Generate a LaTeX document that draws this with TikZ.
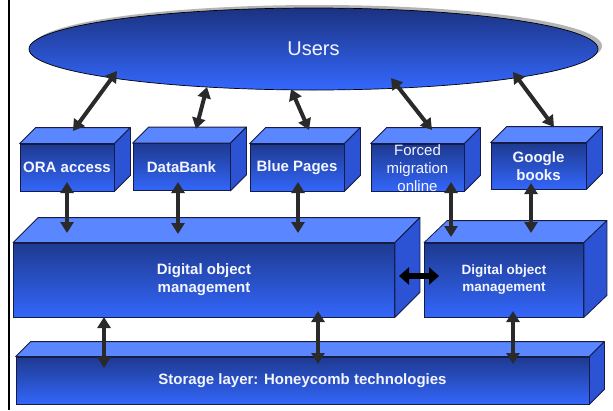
\documentclass[tikz,border=0pt]{standalone}
\usepackage{fontspec}
\setmainfont{Liberation Sans}
\usetikzlibrary{shapes.geometric,arrows.meta}
\definecolor{frontTop}{HTML}{1E3A90}
\definecolor{frontBot}{HTML}{3366FA}
\definecolor{topC}{HTML}{5A86FF}
\definecolor{sideC}{HTML}{2B53D4}
\definecolor{outline}{HTML}{161B45}
\definecolor{arrowC}{HTML}{2A2A2A}
\definecolor{labelC}{HTML}{F4F6FF}
\definecolor{ellTop}{HTML}{1B3280}
\definecolor{ellBot}{HTML}{3468FF}
\definecolor{shadowC}{HTML}{B4B4B4}
\newcommand\extrude[3]{%
  \filldraw[topface] (#1.north west) -- ++(#2,-#3) -- ([shift={(#2,-#3)}]#1.north east) -- (#1.north east) -- cycle;
  \filldraw[sideface] (#1.north east) -- ++(#2,-#3) -- ([shift={(#2,-#3)}]#1.south east) -- (#1.south east) -- cycle;}
\begin{document}
\begin{tikzpicture}[x=1pt,y=-1pt,
  front/.style={draw=outline, line width=0.8pt, top color=frontTop, bottom color=frontBot,
    inner sep=0pt, text=labelC, align=center, font=\fontsize{15}{18}\selectfont\bfseries},
  topface/.style={fill=topC, draw=outline, line width=0.8pt, line join=round},
  sideface/.style={fill=sideC, draw=outline, line width=0.8pt, line join=round},
  link/.style={draw=arrowC, line width=4pt, {Triangle[width=13pt,length=11pt]}-{Triangle[width=13pt,length=11pt]}},
  blink/.style={draw=black, line width=6pt, {Triangle[width=17pt,length=10pt]}-{Triangle[width=17pt,length=10pt]}},
  lbl/.style={text=labelC, align=center, inner sep=0pt}]
\useasboundingbox (0,0) rectangle (613,410);
\fill[white] (0,0) rectangle (613,410);
\draw[line width=2pt] (9,0) -- (9,410);

% Users ellipse
\node[ellipse, fill=shadowC, minimum width=569pt, minimum height=82pt, inner sep=0pt] (usersshadow) at (317.5,46) {};
\node[ellipse, draw=black, line width=0.7pt, top color=ellTop, bottom color=ellBot,
  minimum width=569pt, minimum height=82pt, inner sep=0pt, text=labelC,
  font=\fontsize{20}{24}\selectfont] (users) at (313.5,49) {Users};

% top row
\node[front, minimum width=94pt, minimum height=47pt] (ora) at (67,167.5) {ORA access};
\extrude{ora}{16}{16}
\node[front, minimum width=97pt, minimum height=47pt] (databank) at (181.5,167) {DataBank};
\extrude{databank}{16}{16}
\node[front, minimum width=94pt, minimum height=47pt] (blue) at (297,167.5) {Blue Pages};
\extrude{blue}{16}{16}
\node[front, minimum width=93pt, minimum height=47pt] (forced) at (417.5,167.5) {};
\extrude{forced}{16}{16}
\node[lbl, font=\fontsize{15}{18}\selectfont] (forcedlbl) at (417.5,168) {Forced\\migration\\online};
\node[front, minimum width=95pt, minimum height=46pt] (google) at (538.5,166) {Google\\books};
\extrude{google}{16}{16}

% middle row
\node[front, minimum width=381pt, minimum height=74pt] (dom) at (204,280) {Digital object\\management};
\extrude{dom}{25}{25}
\node[front, minimum width=159pt, minimum height=74pt, font=\fontsize{13.5}{17}\selectfont\bfseries] (domr) at (504,280) {Digital object\\management};
\extrude{domr}{23}{22}

% storage
\node[front, minimum width=573pt, minimum height=47pt] (storage) at (302.5,380.5) {Storage layer: Honeycomb technologies};
\extrude{storage}{15}{15}

% connector end points
\coordinate (u1) at (117,71);   \coordinate (b1) at (73,131);
\coordinate (u2) at (207,87);   \coordinate (b2) at (196,129);
\coordinate (u3) at (291,89);   \coordinate (b3) at (309,130);
\coordinate (u4) at (391,78);   \coordinate (b4) at (432,130);
\coordinate (u5) at (513,72);   \coordinate (b5) at (554,127);

\coordinate (m1t) at (67,182);  \coordinate (m1b) at (67,233);
\coordinate (m2t) at (178,182); \coordinate (m2b) at (178,234);
\coordinate (m3t) at (298,182); \coordinate (m3b) at (298,233);
\coordinate (m4t) at (451,182); \coordinate (m4b) at (451,237);
\coordinate (m5t) at (531,183); \coordinate (m5b) at (531,233);

\coordinate (l1t) at (104,317); \coordinate (l1b) at (104,368);
\coordinate (l2t) at (318,311); \coordinate (l2b) at (318,364);
\coordinate (l3t) at (513,311); \coordinate (l3b) at (513,364);

\coordinate (hl) at (399,276);  \coordinate (hr) at (439,276);

\draw[link] (u1) -- (b1);
\draw[link] (u2) -- (b2);
\draw[link] (u3) -- (b3);
\draw[link] (u4) -- (b4);
\draw[link] (u5) -- (b5);
\draw[link] (m1t) -- (m1b);
\draw[link] (m2t) -- (m2b);
\draw[link] (m3t) -- (m3b);
\draw[link] (m4t) -- (m4b);
\draw[link] (m5t) -- (m5b);
\draw[link] (l1t) -- (l1b);
\draw[link] (l2t) -- (l2b);
\draw[link] (l3t) -- (l3b);
\draw[blink] (hl) -- (hr);
\end{tikzpicture}
\end{document}
